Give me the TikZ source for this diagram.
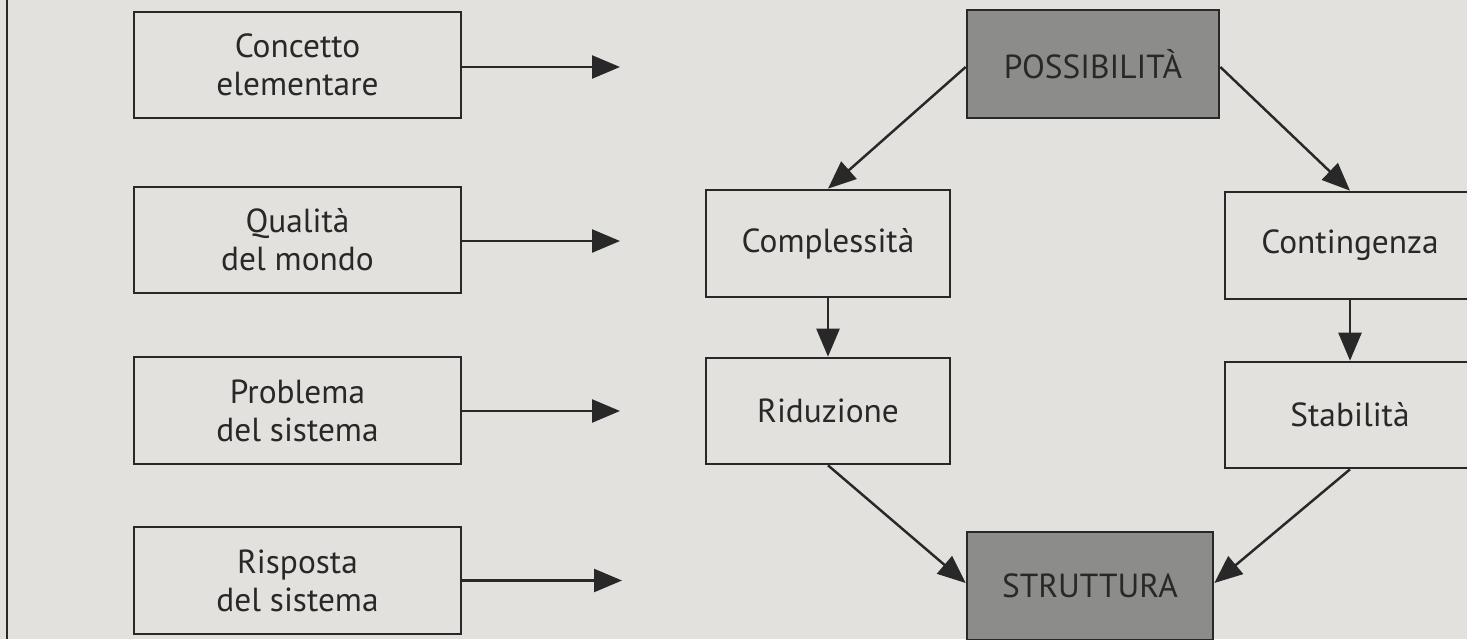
\documentclass[tikz,border=0pt]{standalone}
\usepackage{fontspec}
\setmainfont{PT Sans}
\usetikzlibrary{arrows.meta}
\definecolor{paper}{RGB}{226,225,221}
\definecolor{ink}{RGB}{40,40,40}
\definecolor{shade}{RGB}{140,140,138}
\tikzset{
  box/.style={draw=ink, line width=1.5pt, fill=paper, text=ink, align=center,
    font=\fontsize{19}{21.5}\selectfont, inner sep=0pt},
  darkbox/.style={box, fill=shade},
  conn/.style={draw=ink, line width=1.4pt, -{Triangle[length=0.56cm,width=0.46cm]}}
}
\begin{document}
\begin{tikzpicture}[x=0.02cm,y=-0.02cm]
\fill[paper] (0,0) rectangle (1467,639);
\useasboundingbox (0,0) rectangle (1467,639);
\clip (0,0) rectangle (1467,639);
\draw[ink, line width=1.2pt] (7,0) -- (7,639);
% left column
\node[box, minimum width=327*0.02cm, minimum height=106*0.02cm] (c1) at (297.5,65) {Concetto\\elementare};
\node[box, minimum width=327*0.02cm, minimum height=106*0.02cm] (c2) at (297.5,240) {Qualità\\del mondo};
\node[box, minimum width=327*0.02cm, minimum height=107*0.02cm] (c3) at (297.5,410.5) {Problema\\del sistema};
\node[box, minimum width=327*0.02cm, minimum height=107*0.02cm] (c4) at (297.5,580.5) {Risposta\\del sistema};
\coordinate (a1) at (620,67);
\coordinate (a2) at (620,241);
\coordinate (a3) at (620,411);
\coordinate (a4) at (622,580.5);
\draw[conn] (c1.east |- a1) -- (a1);
\draw[conn] (c2.east |- a2) -- (a2);
\draw[conn] (c3.east |- a3) -- (a3);
\draw[conn] (c4.east |- a4) -- (a4);
% right part
\node[darkbox, minimum width=252*0.02cm, minimum height=108*0.02cm] (poss) at (1093,64) {POSSIBILITÀ};
\node[box, minimum width=244*0.02cm, minimum height=107*0.02cm] (comp) at (828,243.5) {Complessità};
\node[box, minimum width=250*0.02cm, minimum height=107*0.02cm] (cont) at (1350,245.5) {Contingenza};
\node[box, minimum width=244*0.02cm, minimum height=106*0.02cm] (rid) at (828,411) {Riduzione};
\node[box, minimum width=250*0.02cm, minimum height=106*0.02cm] (stab) at (1350,415) {Stabilità};
\node[darkbox, minimum width=246*0.02cm, minimum height=108*0.02cm] (strut) at (1090,586) {STRUTTURA};
\draw[conn] ([yshift=-0.06cm]poss.west) -- (comp.north);
\draw[conn] ([yshift=-0.06cm]poss.east) -- (cont.north);
\draw[conn] (comp.south) -- (rid.north);
\draw[conn] (cont.south) -- (stab.north);
\draw[conn] (rid.south) -- ([yshift=0.06cm]strut.west);
\draw[conn] (stab.south) -- ([yshift=0.06cm]strut.east);
\end{tikzpicture}
\end{document}
